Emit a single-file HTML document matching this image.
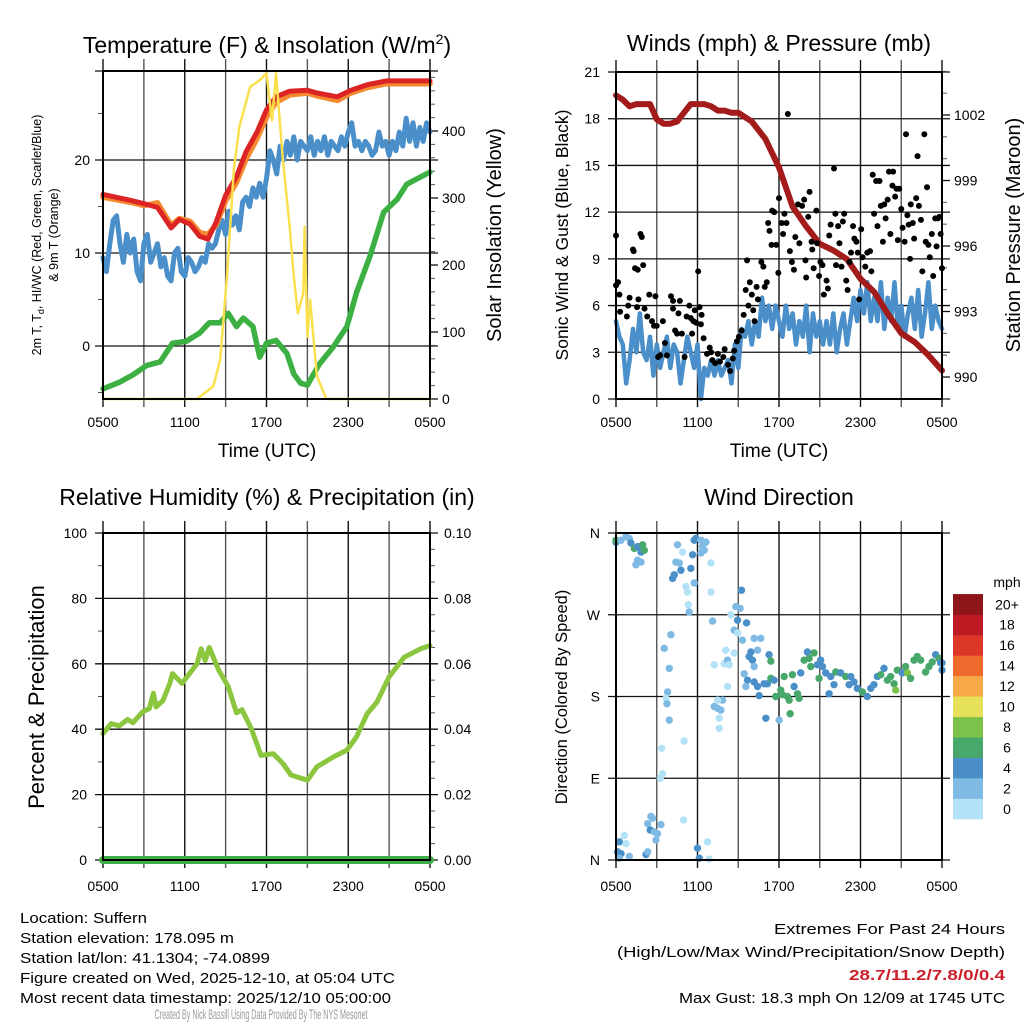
<!DOCTYPE html>
<html><head><meta charset="utf-8"><style>
body{margin:0;background:#fff;}
svg{display:block;font-family:"Liberation Sans",sans-serif;}
</style></head><body>
<svg id="fig" width="1024" height="1024" viewBox="0 0 1024 1024" xmlns="http://www.w3.org/2000/svg">
<rect width="1024" height="1024" fill="#fff"/>
<g id="layer"></g>
<text x="267" y="53" font-size="23" text-anchor="middle">Temperature (F) &amp; Insolation (W/m<tspan font-size="14" dy="-9">2</tspan><tspan dy="9">)</tspan></text>
<text x="779" y="51" font-size="23" text-anchor="middle">Winds (mph) &amp; Pressure (mb)</text>
<text x="267" y="505" font-size="23" text-anchor="middle">Relative Humidity (%) &amp; Precipitation (in)</text>
<text x="779" y="505" font-size="23" text-anchor="middle">Wind Direction</text>
<text x="267" y="457" font-size="19" text-anchor="middle">Time (UTC)</text>
<text x="779" y="457" font-size="19" text-anchor="middle">Time (UTC)</text>
<text transform="translate(41,235) rotate(-90)" font-size="12.5" text-anchor="middle">2m T, T<tspan font-size="9" dy="3">d</tspan><tspan dy="-3">, HI/WC (Red, Green, Scarlet/Blue)</tspan></text>
<text transform="translate(58,235) rotate(-90)" font-size="12.5" text-anchor="middle">&amp; 9m T (Orange)</text>
<text transform="translate(501,235) rotate(-90)" font-size="20" text-anchor="middle">Solar Insolation (Yellow)</text>
<text transform="translate(568,235) rotate(-90)" font-size="17.5" text-anchor="middle">Sonic Wind &amp; Gust (Blue, Black)</text>
<text transform="translate(1020,235) rotate(-90)" font-size="20" text-anchor="middle">Station Pressure (Maroon)</text>
<text transform="translate(44,697) rotate(-90)" font-size="22" text-anchor="middle">Percent &amp; Precipitation</text>
<text transform="translate(567,697) rotate(-90)" font-size="16.5" text-anchor="middle">Direction (Colored By Speed)</text>
<text x="1007" y="587" font-size="14" text-anchor="middle">mph</text>
<g font-size="15">
<text x="20" y="923" textLength="127" lengthAdjust="spacingAndGlyphs">Location: Suffern</text>
<text x="20" y="943" textLength="214" lengthAdjust="spacingAndGlyphs">Station elevation: 178.095 m</text>
<text x="20" y="963" textLength="250" lengthAdjust="spacingAndGlyphs">Station lat/lon: 41.1304; -74.0899</text>
<text x="20" y="983" textLength="375" lengthAdjust="spacingAndGlyphs">Figure created on Wed, 2025-12-10, at 05:04 UTC</text>
<text x="20" y="1003" textLength="371" lengthAdjust="spacingAndGlyphs">Most recent data timestamp: 2025/12/10 05:00:00</text>
<text x="1005" y="934" text-anchor="end" textLength="231" lengthAdjust="spacingAndGlyphs">Extremes For Past 24 Hours</text>
<text x="1005" y="957" text-anchor="end" textLength="388" lengthAdjust="spacingAndGlyphs">(High/Low/Max Wind/Precipitation/Snow Depth)</text>
<text x="1005" y="980" text-anchor="end" fill="#cc1f2a" font-weight="bold" textLength="156" lengthAdjust="spacingAndGlyphs">28.7/11.2/7.8/0/0.4</text>
<text x="1005" y="1003" text-anchor="end" textLength="326" lengthAdjust="spacingAndGlyphs">Max Gust: 18.3 mph On 12/09 at 1745 UTC</text>
</g>
<text x="261" y="1019" font-size="14" fill="#999" text-anchor="middle" textLength="213" lengthAdjust="spacingAndGlyphs">Created By Nick Bassill Using Data Provided By The NYS Mesonet</text>
</svg>
<script>
// ---- Temperature panel data (hours after 0500 UTC) ----
const tempHours=[0,2.2,3,4,5,5.6,6.4,7.1,7.7,8.3,9,9.8,10.5,11.3,12,12.7,13.7,15,15.7,17.2,18.2,19.4,20.8,24];
const tempValues=[16.3,15.6,15.3,14.9,12.7,13.6,13.1,11.8,11.5,13.3,16.2,18.2,20.9,23,25.4,26.8,27.4,27.5,27.2,26.8,27.5,28.1,28.5,28.5];
const temp9mValues=[16.0,15.4,15.1,15.4,13.0,13.7,13.4,12.2,12.0,13.0,15.6,17.6,20.1,22.3,24.6,26.2,27.0,27.2,26.9,26.4,27.2,27.8,28.2,28.2];
const dewHours=[0,1.2,2.2,3.2,4.2,5.1,6.1,7.1,7.8,8.6,9.2,9.8,10.3,11,11.5,12,12.7,13.5,14,14.5,15,15.9,16.9,17.9,18.6,19.6,20.6,21.6,22.3,24];
const dewValues=[-4.6,-3.9,-3.1,-2.1,-1.7,0.3,0.5,1.4,2.5,2.5,3.5,2.1,3,2.1,-1.2,0.3,0.6,-0.8,-3,-4,-4.2,-1.9,-0.1,2.1,5.7,9.7,14.4,15.8,17.4,18.7];
const wcHours=[0,0.25,0.5,0.75,1,1.25,1.5,1.75,2,2.25,2.5,2.75,3,3.25,3.5,3.75,4,4.25,4.5,4.75,5,5.25,5.5,5.75,6,6.25,6.5,6.75,7,7.25,7.5,7.75,8,8.25,8.5,8.75,9,9.25,9.5,9.75,10,10.25,10.5,10.75,11,11.25,11.5,11.75,12,12.25,12.5,12.75,13,13.25,13.5,13.75,14,14.25,14.5,14.75,15,15.25,15.5,15.75,16,16.25,16.5,16.75,17,17.25,17.5,17.75,18,18.25,18.5,18.75,19,19.25,19.5,19.75,20,20.25,20.5,20.75,21,21.25,21.5,21.75,22,22.25,22.5,22.75,23,23.25,23.5,23.75,24];
const wcValues=[9.5,8,11,13.5,14,11,9,12,10,11.5,8,7,11,12,9,10,11,8.5,9.5,7.5,7,10,10.5,8,7.5,9.5,9,8,8.5,9.5,9,11,10.5,11,12.5,13.5,12,14.5,13,14,12.5,15.5,16,15,17,16,17.5,16,18,21,20,18.5,21.5,20,22,20.5,22.5,20,22,21.5,21,22.5,20.5,22,21,22.5,20.5,22,21.5,21,22.5,21.5,23,24,21.5,22,21,22,21.5,20.5,21,23,21.5,22,20.5,22,21,23,21.5,24.5,22,24,21.5,23.5,22,24,23];
const solarHours=[0,6.9,8.1,8.6,9.1,9.6,10,10.8,11.5,12,12.4,12.7,13.2,13.7,14,14.3,14.7,14.8,15,15.2,15.7,16.4,24];
const solarValues=[0,0,19,59,183,342,406,466,476,486,416,486,357,257,183,128,158,257,93,148,34,0,0];
const tempTicks=[0,10,20];
const solarTicks=[0,100,200,300,400];
const timeTickLabels=["0500","1100","1700","2300","0500"];
// ---- Wind panel data ----
const windHours=[0,0.25,0.5,0.75,1,1.25,1.5,1.75,2,2.25,2.5,2.75,3,3.25,3.5,3.75,4,4.25,4.5,4.75,5,5.25,5.5,5.75,6,6.25,6.5,6.75,7,7.25,7.5,7.75,8,8.25,8.5,8.75,9,9.25,9.5,9.75,10,10.25,10.5,10.75,11,11.25,11.5,11.75,12,12.25,12.5,12.75,13,13.25,13.5,13.75,14,14.25,14.5,14.75,15,15.25,15.5,15.75,16,16.25,16.5,16.75,17,17.25,17.5,17.75,18,18.25,18.5,18.75,19,19.25,19.5,19.75,20,20.25,20.5,20.75,21,21.25,21.5,21.75,22,22.25,22.5,22.75,23,23.25,23.5,23.75,24];
const windValues=[5,4,3.5,1,2.5,4.5,3,5.5,3,2.5,4,1.5,3.5,2,3,4,2,3.5,3,1,2.5,4,3,2,3.5,0,2,1.5,2.5,1.5,2.5,1.5,2,2.5,1,3.5,2,4.5,4,5,3.5,5,4,6.5,5,6,4.5,6,5,4,6,4.5,5.5,3.5,5,4,6,3,5.5,4,5,3.5,5,3.5,5.5,3,4.5,5.5,3.5,5,6.5,5,7,5.5,7.5,5,6.5,5,7.5,4.5,6.5,5,7.5,4.5,6,4,5.5,6.5,4.5,7,4,5.5,7.5,4.5,6,5,4.5];
const pressHours=[0,0.5,1,1.5,2,2.5,3,3.5,4,4.5,5,5.5,6,6.5,7,7.5,8,8.5,9,10,11,12,13,14,15,16,17,18,19,20,21,22,23,24];
const pressValues=[1002.9,1002.7,1002.4,1002.5,1002.5,1002.5,1001.8,1001.6,1001.6,1001.7,1002.1,1002.5,1002.5,1002.5,1002.4,1002.2,1002.2,1002.1,1002.1,1001.7,1000.9,999.6,997.8,996.9,996.1,995.8,995.4,994.5,993.9,992.9,992.0,991.6,991.0,990.3];
const gustHours=[0,0,0.15,0.25,0.3,0.8,0.9,1,1.25,1.3,1.4,1.6,1.8,1.9,2,1.55,1.65,2.1,2.3,2.45,2.65,2.8,2.9,3,3.1,3.25,3.45,3.6,3.75,4.05,4.2,4.2,4.35,4.5,4.6,4.7,4.85,5.05,5.2,5.4,5.5,5.6,5.7,5.8,5.9,6.05,6.15,6.25,6.3,6.45,6.7,6.9,7,7.1,7.3,7.5,7.65,7.9,8,8.25,8.4,8.6,8.7,8.9,9.05,9.25,9.4,9.55,9.65,9.75,9.85,10,10.1,10.2,10.35,10.45,10.7,10.85,10.95,11.1,11.2,11.3,11.45,11.5,11.65,11.8,11.95,12,12.2,12.3,12.4,12.55,12.65,12.8,12.95,13.1,13.2,13.4,13.5,13.7,13.85,13.95,14,14.15,14.25,14.4,14.45,14.55,14.75,14.8,14.95,15.05,15.2,15.3,15.5,15.6,15.7,15.8,16.05,16.15,16.2,16.35,16.45,16.6,16.7,16.8,16.95,17.05,17.2,17.3,17.45,17.55,17.7,17.8,17.9,18.05,18.15,18.35,18.5,18.7,18.8,18.9,19,19.15,19.25,19.4,19.5,19.65,19.75,19.85,20,20.1,20.2,20.35,20.4,20.55,20.65,20.75,20.85,21,21.1,21.25,21.35,21.45,21.55,21.65,21.7,21.85,21.95,22.1,22.2,22.3,22.45,22.55,22.7,22.8,22.9,23,23.1,23.25,23.35,23.5,23.6,23.7,23.8,23.9,24];
const gustValues=[10.5,7.3,7.5,6.7,5.6,5.3,6,6.5,9.6,9.5,8.4,8.3,10.6,10.4,8.6,5.9,6.4,5.8,5.3,6.7,5,4.7,6.6,4.7,2.7,2.8,5,3.6,2.8,6.6,6.3,5.8,4.4,4.2,5.5,6.3,4.2,2.7,5.3,6,5.2,4.2,5,5.7,4.9,8.2,5.9,4.8,5.4,3.9,2.9,3.3,3,2.5,2.3,2.9,2.4,2.7,3.2,2.2,1.8,2.6,3.1,3.7,4,4.4,5.4,7,8.9,6,7.5,6.7,5.7,5,7.2,6.4,8.8,8.5,7.2,7.5,11.3,10.8,9.9,12.1,12,9.9,8.1,12.9,11.3,10.6,11.9,11.3,18.3,9.5,8.8,8.3,10.4,12.5,10,12.4,12.8,8.9,7.8,11.7,13.3,10.1,9.6,8.4,12.1,10,7.9,8.8,8.6,6.7,7.6,7.1,10.5,11.2,14.8,11.9,8.6,11.1,10,8.5,11.4,11.9,7.6,7,8.8,9.4,11.1,10.3,10.1,9.4,6.4,10.9,9.1,8.5,9.4,9.5,8.2,14.4,11.9,14,11.1,14,12.4,10.1,12.5,11.6,12.8,14.6,10.6,13.7,14.6,13,13.5,10.2,13.5,12.2,11,10.1,17,11.8,11.2,9,12.5,11.3,10.3,12.9,15.6,12.4,11.5,8.2,17,10.1,13.6,9.9,9.1,10.6,7.9,11.6,9.8,11.6,11.7,10.6,8.4];
const windTicks=[0,3,6,9,12,15,18,21];
const pressTicks=[990,993,996,999,1002];
// ---- RH panel data ----
const rhHours=[0,0.6,1.2,1.8,2.2,2.9,3.4,3.7,3.9,4.4,4.9,5.1,5.8,6.9,7.2,7.5,7.8,8.5,9.2,9.8,10.2,10.9,11.6,12.5,13.2,13.8,15,15.7,16.9,17.9,18.6,19.4,20.1,21,22.1,23.3,24];
const rhValues=[38.7,41.7,41,43,42,45.3,46.3,51,46.8,48.8,54,57,54,60,64.6,61,65,58,53,45,46,40,32,32.5,29.5,26,24.4,28.5,31.5,33.6,37.6,44.8,48.3,56,62,64.6,65.6];
const precipHours=[0,24];
const precipValues=[0,0];
const rhTicks=[0,20,40,60,80,100];
const precipTicks=["0.00","0.02","0.04","0.06","0.08","0.10"];
// ---- Wind direction panel data ----
const dirHours=[0,0,0.37,0.74,0.98,1.1,1.35,1.59,1.84,1.96,2.08,1.59,1.47,1.84,4.53,4.9,4.41,4.66,4.29,4.17,4.78,5.51,5.64,5.76,5.88,6.25,6.37,6.25,6.5,6.62,6.99,5.76,5.15,5.27,5.32,5.39,6.99,4.04,3.55,3.92,3.8,3.68,3.75,3.92,5.02,3.36,3.43,3.26,4.98,7.23,7.48,7.72,7.84,7.48,7.6,7.6,8.21,7.97,8.09,8.21,8.33,8.7,7.23,7.11,8.46,8.82,9.14,9.24,8.95,9.61,8.7,8.95,9.31,10.17,10.66,10.42,9.93,9.8,10.05,10.17,9.44,9.68,9.56,10.17,10.42,10.91,11.15,10.54,11.4,11.27,11.4,11.64,11.76,12.13,12.38,12.25,12.62,12.75,13.11,13.36,13.48,12.99,13.6,13.85,14.09,14.22,14.34,14.58,14.83,15.07,15.2,14.95,15.44,15.81,16.05,15.69,16.18,16.54,16.91,17.16,17.28,17.52,17.77,18.14,18.5,18.75,18.99,19.24,19.49,19.73,19.98,20.22,20.47,20.59,20.71,21.08,21.32,21.45,21.69,21.94,22.18,22.43,22.79,23.04,23.28,23.53,23.77,23.9,24,24,11.03,12.01,12.82,0.25,0.12,0.37,0.25,0.61,0.74,0.98,2.21,2.33,2.33,2.57,2.7,2.52,2.82,2.94,3.06,3.31,6,6.13,6.74,6.86];
const dirDegrees=[350,352,352,356,354,349,343,345,339,347,341,330,325,328,347,339,328,327,314,310,319,321,336,352,354,352,345,338,341,350,327,305,301,295,281,273,295,248,233,211,185,178,172,154,131,123,95,90,44,169,167,165,176,176,156,145,191,216,231,220,215,228,215,263,270,279,277,297,264,261,253,250,242,244,244,231,229,224,220,213,205,198,191,196,191,194,194,181,200,226,219,198,180,187,202,182,180,176,191,183,178,204,206,220,229,222,213,228,215,220,213,200,206,202,193,183,207,206,202,193,202,196,189,185,180,189,193,202,204,211,198,202,194,187,209,206,213,206,200,220,224,220,207,213,218,226,222,217,209,217,156,154,161,20,9,7,2,27,18,4,6,9,40,48,46,33,31,22,29,39,13,2,20,1];
const dirSpeeds=[5,7,3,3,3,5,7,5,5,7,7,3,3,3,3,1,3,3,5,5,5,5,5,5,5,3,3,3,3,3,1,3,1,1,1,3,1,3,3,3,3,1,3,3,1,1,1,1,1,3,3,3,3,1,1,1,1,1,1,3,1,1,1,3,1,3,3,5,5,5,3,1,3,3,3,3,5,5,5,3,3,5,3,5,5,5,5,5,7,5,7,5,7,7,7,7,7,7,5,7,7,7,5,7,5,7,7,7,5,5,5,7,5,5,5,5,7,5,7,5,5,5,5,7,5,5,5,5,7,5,7,7,7,9,7,5,7,9,7,7,7,7,7,7,7,5,7,5,5,5,5,3,7,5,5,5,3,1,1,3,5,3,3,3,3,5,3,3,3,3,5,5,1,1];
const dirTickLabels=["N","E","S","W","N"];
const legendLabels=["0","2","4","6","8","10","12","14","16","18","20+"];
const legendColors=["#b3e2f7","#7fbae4","#4a8fc8","#48a76b","#7cc24a","#e6e15a","#f6a946","#ef6a2d","#dd3728","#bd1c24","#8e1619"];

const NS="http://www.w3.org/2000/svg";
const layer=document.getElementById('layer');
function el(tag,attrs,parent){const e=document.createElementNS(NS,tag);for(const k in attrs)e.setAttribute(k,attrs[k]);(parent||layer).appendChild(e);return e;}
function lin(d0,d1,r0,r1){return v=>r0+(v-d0)*(r1-r0)/(d1-d0);}

function frame(name,L,R,T,B){
  const g=el('g',{});
  
  
  for(let i=0;i<=8;i++){const x=L+(R-L)*i/8;
    const v=el('line',{x1:x,x2:x,y1:T-12,y2:B+8,stroke:(i%2?'#555':'#111'),'stroke-width':1.4},g);
    
    }
  return g;
}
function hline(y,L,R,g){const h=el('line',{x1:L-8,x2:R+8,y1:y,y2:y,stroke:'#111','stroke-width':1.3},g);
  
  }
function text(x,y,s,anchor,size,g){const t=el('text',{x:x,y:y,'text-anchor':anchor,'font-size':size||14},g);t.textContent=s;return t;}
function path(xs,ys,fx,fy,stroke,w,name){const d=xs.map((h,i)=>(i?'L':'M')+fx(h).toFixed(1)+','+fy(ys[i]).toFixed(1)).join('');
  const p=el('path',{d:d,fill:'none',stroke:stroke,'stroke-width':w,'stroke-linejoin':'round','stroke-linecap':'round'});
  
  
  return p;}
function border(L,R,T,B,name){const r=el('rect',{x:L,y:T,width:R-L,height:B-T,fill:'none',stroke:'#000','stroke-width':2});
  
  }
function xlabels(L,R,y,name){const g=el('g',{});
  
  
  timeTickLabels.forEach((s,i)=>text(L+(R-L)*i/4,y,s,'middle',14,g));}
function rightMinor(R,fy,vals){vals.forEach(v=>{const t=el('line',{x1:R,x2:R+5,y1:fy(v),y2:fy(v),stroke:'#555','stroke-width':1});
  
  });}

// ===== Panel 1: temperature =====
(function(){
  const L=103,R=430,T=71,B=399;
  const fx=lin(0,24,L,R), fy=lin(0,10,346,253), fs=lin(0,400,399,131);
  const g=frame('temp',L,R,T,B);
  tempTicks.forEach(v=>{hline(fy(v),L,R,g);text(L-13,fy(v)+5,String(v),'end',14,g);});
  hline(T,L,R,g);
  solarTicks.forEach(v=>{const t=el('line',{x1:R,x2:R+8,y1:fs(v),y2:fs(v),stroke:'#111','stroke-width':1.3},g);
    
    
    text(R+12,fs(v)+5,String(v),'start',14,g);});
  const mv=[];for(let v=20;v<=480;v+=20)if(v%100)mv.push(v);rightMinor(R,fs,mv);
  for(let v=-5;v<=25;v+=5)if(v%10){const t=el('line',{x1:L-5,x2:L,y1:fy(v),y2:fy(v),stroke:'#555'},g);
    
    }
  xlabels(L,R,427,'temp');
  path(wcHours,wcValues,fx,fy,'#4a8fca',5,'windchill-line');
  path(dewHours,dewValues,fx,fy,'#3cb043',5.5,'dewpoint-line');
  path(tempHours,temp9mValues,fx,fy,'#f5892f',5.5,'temp-9m-line');
  path(tempHours,tempValues,fx,fy,'#dc2424',5,'temp-2m-line');
  path(solarHours,solarValues,fx,fs,'#fbe04e',2.5,'solar-line');
  border(L,R,T,B,'temp');
})();

// ===== Panel 2: wind & pressure =====
(function(){
  const L=616,R=942,T=72,B=399;
  const fx=lin(0,24,L,R), fy=lin(0,21,399,72), fp=lin(990,1002,377,115);
  const g=frame('wind',L,R,T,B);
  windTicks.forEach(v=>{hline(fy(v),L,R,g);text(L-16,fy(v)+5,String(v),'end',14,g);});
  pressTicks.forEach(v=>{const t=el('line',{x1:R,x2:R+8,y1:fp(v),y2:fp(v),stroke:'#111','stroke-width':1.3},g);
    
    
    text(R+12,fp(v)+5,String(v),'start',14,g);});
  const mv=[];for(let v=989;v<=1004;v++)if((v-990)%3)mv.push(v);rightMinor(R,fp,mv);
  xlabels(L,R,427,'wind');
  path(windHours,windValues,fx,fy,'#4a8fca',4.5,'sonic-wind-line');
  path(pressHours,pressValues,fx,fp,'#a31b1b',6,'pressure-line');
  const gg=el('g',{});
  
  
  gustHours.forEach((h,i)=>{const c=el('circle',{cx:fx(h),cy:fy(gustValues[i]),r:3,fill:'#000'},gg);
    
    });
  border(L,R,T,B,'wind');
})();

// ===== Panel 3: RH & precip =====
(function(){
  const L=103,R=430,T=533,B=860;
  const fx=lin(0,24,L,R), fy=lin(0,100,860,533), fpr=lin(0,0.1,860,533);
  const g=frame('rh',L,R,T,B);
  rhTicks.forEach((v,i)=>{hline(fy(v),L,R,g);text(L-16,fy(v)+5,String(v),'end',14,g);
    text(R+14,fy(v)+5,precipTicks[i],'start',14,g);});
  const mv=[];for(let v=10;v<100;v+=20)mv.push(v);
  rightMinor(R,fy,[5,15,25,35,45,55,65,75,85,95].concat(mv));
  mv.forEach(v=>{const t=el('line',{x1:L-5,x2:L,y1:fy(v),y2:fy(v),stroke:'#555'},g);
    
    });
  xlabels(L,R,891,'rh');
  path(rhHours,rhValues,fx,fy,'#8cc63f',5,'rh-line');
  path(precipHours,precipValues,fx,fpr,'#3fae49',8,'precip-line');
  border(L,R,T,B,'rh');
})();

// ===== Panel 4: wind direction =====
(function(){
  const L=616,R=942,T=533,B=860;
  const fx=lin(0,24,L,R), fy=lin(0,360,860,533);
  const g=frame('dir',L,R,T,B);
  dirTickLabels.forEach((s,i)=>{const y=fy(i*90);hline(y,L,R,g);text(L-16,y+5,s,'end',14,g);});
  xlabels(L,R,891,'dir');
  function col(s){let k=Math.floor(s/2);if(k>10)k=10;if(k<0)k=0;return legendColors[k];}
  const dg=el('g',{});
  
  
  dirHours.forEach((h,i)=>{const c=el('circle',{cx:fx(h),cy:fy(dirDegrees[i]),r:3.7,fill:col(dirSpeeds[i])},dg);
    
    });
  border(L,R,T,B,'dir');
  const lg=el('g',{});
  
  
  const bh=20.45, bottom=819;
  legendColors.forEach((c,i)=>{const y=bottom-(i+1)*bh;
    const r=el('rect',{x:953,y:y,width:30,height:bh+0.3,fill:c},lg);
    
    
    const t=text(1007,y+bh/2+5,legendLabels[i],'middle',14,lg);
    
    });
})();
</script>
</body></html>
